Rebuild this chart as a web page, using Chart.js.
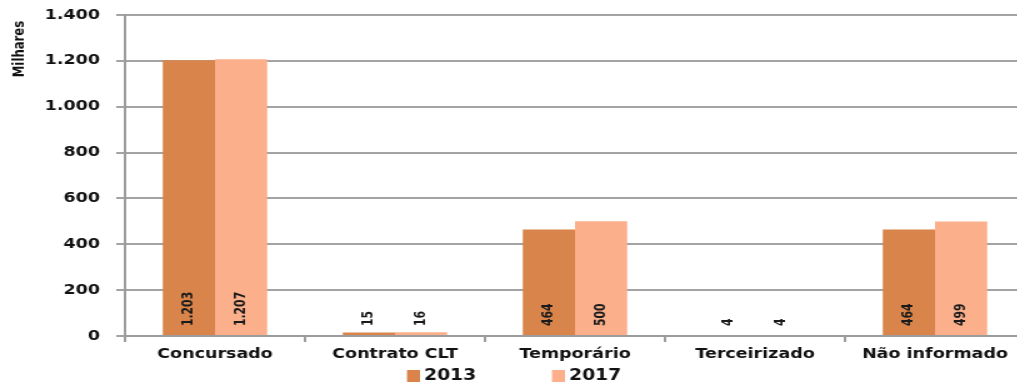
<!DOCTYPE html>
<html>
<head>
<meta charset="utf-8">
<script src="https://cdn.jsdelivr.net/npm/chart.js@4/dist/chart.umd.min.js"></script>
<style>
  html, body { margin: 0; padding: 0; background: #fff; overflow: hidden; }
  #wrap { width: 1017px; height: 383px; overflow: hidden; }
  #chart { transform: scaleX(1.25); transform-origin: 0 0; display: block; }
</style>
</head>
<body>
<div id="wrap"><canvas id="chart" width="820" height="383"></canvas></div>
<script>
const categories = ["Concursado", "Contrato CLT", "Temporário", "Terceirizado", "Não informado"];
const years = ["2013", "2017"];
const values2013 = [1203, 15, 464, 4, 464];
const values2017 = [1207, 16, 500, 4, 499];
const yTicks = [0, 200, 400, 600, 800, 1000, 1200, 1400];
const colors = ["#D8844A", "#FBAF8A"];

const fmt = (v) => String(v).replace(/\B(?=(\d{3})+(?!\d))/g, ".");

const extras = {
  id: "extras",
  afterDatasetsDraw(chart) {
    const ctx = chart.ctx;
    const base = chart.chartArea.bottom;
    ctx.save();
    ctx.font = "bold 12px 'DejaVu Sans Condensed'";
    ctx.fillStyle = "#1a1a1a";
    ctx.textAlign = "left";
    ctx.textBaseline = "middle";
    chart.data.datasets.forEach((ds, i) => {
      chart.getDatasetMeta(i).data.forEach((bar, j) => {
        ctx.save();
        ctx.translate(bar.x, base - 10);
        ctx.rotate(-Math.PI / 2);
        ctx.fillText(fmt(ds.data[j]), 0, 0);
        ctx.restore();
      });
    });
    ctx.restore();
  },
  afterDraw(chart) {
    const ctx = chart.ctx;
    ctx.save();
    // axis title
    ctx.font = "bold 13px 'DejaVu Sans Condensed'";
    ctx.fillStyle = "#111";
    ctx.textAlign = "center";
    ctx.textBaseline = "middle";
    ctx.translate(16, 49);
    ctx.rotate(-Math.PI / 2);
    ctx.fillText("Milhares", 0, 0);
    ctx.restore();

    // legend
    ctx.save();
    ctx.font = "bold 15px 'DejaVu Sans'";
    ctx.textBaseline = "middle";
    ctx.textAlign = "left";
    const xs = [325.6, 441.6];
    chart.data.datasets.forEach((ds, i) => {
      ctx.fillStyle = ds.backgroundColor;
      ctx.fillRect(xs[i], 370, 10.4, 12);
      ctx.fillStyle = "#111";
      ctx.fillText(ds.label, xs[i] + 13.6, 376);
    });
    ctx.restore();
  }
};

new Chart(document.getElementById("chart"), {
  type: "bar",
  data: {
    labels: categories,
    datasets: [
      { label: years[0], data: values2013, backgroundColor: colors[0] },
      { label: years[1], data: values2017, backgroundColor: colors[1] }
    ]
  },
  options: {
    responsive: false,
    animation: false,
    devicePixelRatio: 1,
    layout: { padding: { top: 15, right: 0, left: 0, bottom: 0 } },
    datasets: { bar: { barPercentage: 1, categoryPercentage: 0.58 } },
    plugins: {
      legend: { display: false },
      tooltip: { enabled: false }
    },
    scales: {
      x: {
        afterFit: (s) => { s.height = 47; s.paddingLeft = 0; s.paddingRight = 0; },
        border: { color: "#9c9c9c", width: 2 },
        grid: { offset: true, drawOnChartArea: false, drawTicks: true, tickLength: 6, color: "#9c9c9c", lineWidth: 2 },
        ticks: { color: "#111", padding: 4, font: { family: "'DejaVu Sans'", size: 14, weight: "bold" } }
      },
      y: {
        min: 0,
        max: 1400,
        afterFit: (s) => { s.width = 100; s.paddingTop = 0; s.paddingBottom = 0; },
        afterBuildTicks: (s) => { s.ticks = yTicks.map((v) => ({ value: v })); },
        border: { color: "#9c9c9c", width: 2 },
        grid: { color: "#a3a3a3", lineWidth: 2, tickLength: 7 },
        ticks: {
          color: "#111",
          padding: 13,
          font: { family: "'DejaVu Sans'", size: 14, weight: "bold" },
          callback: (v) => fmt(v)
        }
      }
    }
  },
  plugins: [extras]
});
</script>
</body>
</html>
